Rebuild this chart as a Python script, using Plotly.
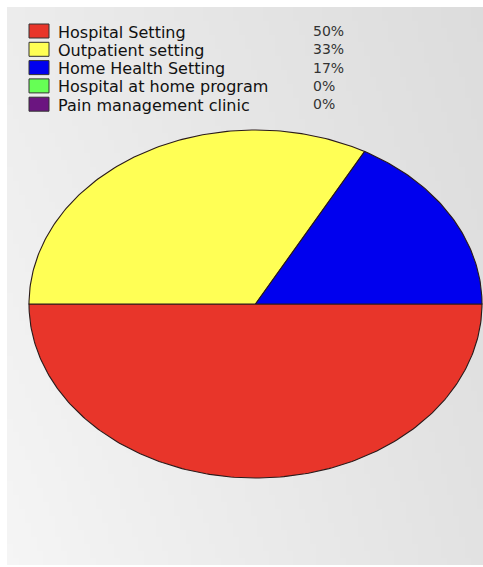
import math
import plotly.graph_objects as go

# ---- data ----
categories = ["Hospital Setting", "Outpatient setting", "Home Health Setting",
              "Hospital at home program", "Pain management clinic"]
values = [50, 33, 17, 0, 0]
pct_labels = ["50%", "33%", "17%", "0%", "0%"]
colors = ["#e8352a", "#ffff55", "#0000ee", "#66ff55", "#6b1580"]

# ---- layout constants (pixel space) ----
W, H = 483, 567
CX, CY, RX, RY = 255.5, 304, 226.5, 174
PANEL = (7, 7, 483, 565)

fig = go.Figure()

# background gradient panel
n = 80
x0, y0, x1, y1 = PANEL
xe = [x0 + (x1 - x0) * i / n for i in range(n + 1)]
ye = [y0 + (y1 - y0) * j / n for j in range(n + 1)]
tl, tr, bl, br = 236, 220, 245, 226
z = []
for j in range(n):
    v = (j + 0.5) / n
    row = []
    for i in range(n):
        u = (i + 0.5) / n
        g = tl * (1 - u) * (1 - v) + tr * u * (1 - v) + bl * (1 - u) * v + br * u * v
        row.append(g)
    z.append(row)
fig.add_trace(go.Heatmap(x=xe, y=ye, z=z, zmin=0, zmax=255,
                         colorscale=[[0, "rgb(0,0,0)"], [1, "rgb(255,255,255)"]],
                         showscale=False, hoverinfo="skip"))

# pie slices drawn as elliptical wedges (clockwise from east)
total = sum(values)
start = 0.0
for cat, val, col in zip(categories, values, colors):
    if val <= 0:
        continue
    span = val / total * 2 * math.pi
    steps = max(int(span / (2 * math.pi) * 400), 4)
    xs, ys = [CX], [CY]
    for k in range(steps + 1):
        t = start + span * k / steps
        xs.append(CX + RX * math.cos(t))
        ys.append(CY + RY * math.sin(t))
    xs.append(CX)
    ys.append(CY)
    fig.add_trace(go.Scatter(x=xs, y=ys, mode="lines", fill="toself",
                             fillcolor=col, line=dict(color="#2a1a1a", width=1.1),
                             name=cat, hoverinfo="name", showlegend=False))
    start += span

# legend: squares + labels + percentages
for i, (cat, pct, col) in enumerate(zip(categories, pct_labels, colors)):
    yc = 31 + 18.3 * i
    fig.add_shape(type="rect", x0=29, x1=49, y0=yc - 7, y1=yc + 7,
                  fillcolor=col, line=dict(color="#333333", width=1))
    fig.add_annotation(x=55.5, y=yc + 0.5, text=cat, showarrow=False,
                       xanchor="left", yanchor="middle", height=18, valign="middle",
                       font=dict(family="DejaVu Sans", size=16, color="#111111"))
    fig.add_annotation(x=311, y=yc, text=pct, showarrow=False,
                       xanchor="left", yanchor="middle", height=18, valign="middle",
                       font=dict(family="DejaVu Sans", size=14, color="#333333"))

fig.update_layout(
    width=W, height=H,
    margin=dict(l=0, r=0, t=0, b=0),
    paper_bgcolor="white", plot_bgcolor="white",
    showlegend=False,
    xaxis=dict(range=[0, W], visible=False, fixedrange=True),
    yaxis=dict(range=[H, 0], visible=False, fixedrange=True),
)

fig.write_html("out.html", config={"displayModeBar": False},
               post_script="document.body.style.margin='0';document.body.style.overflow='hidden';")
